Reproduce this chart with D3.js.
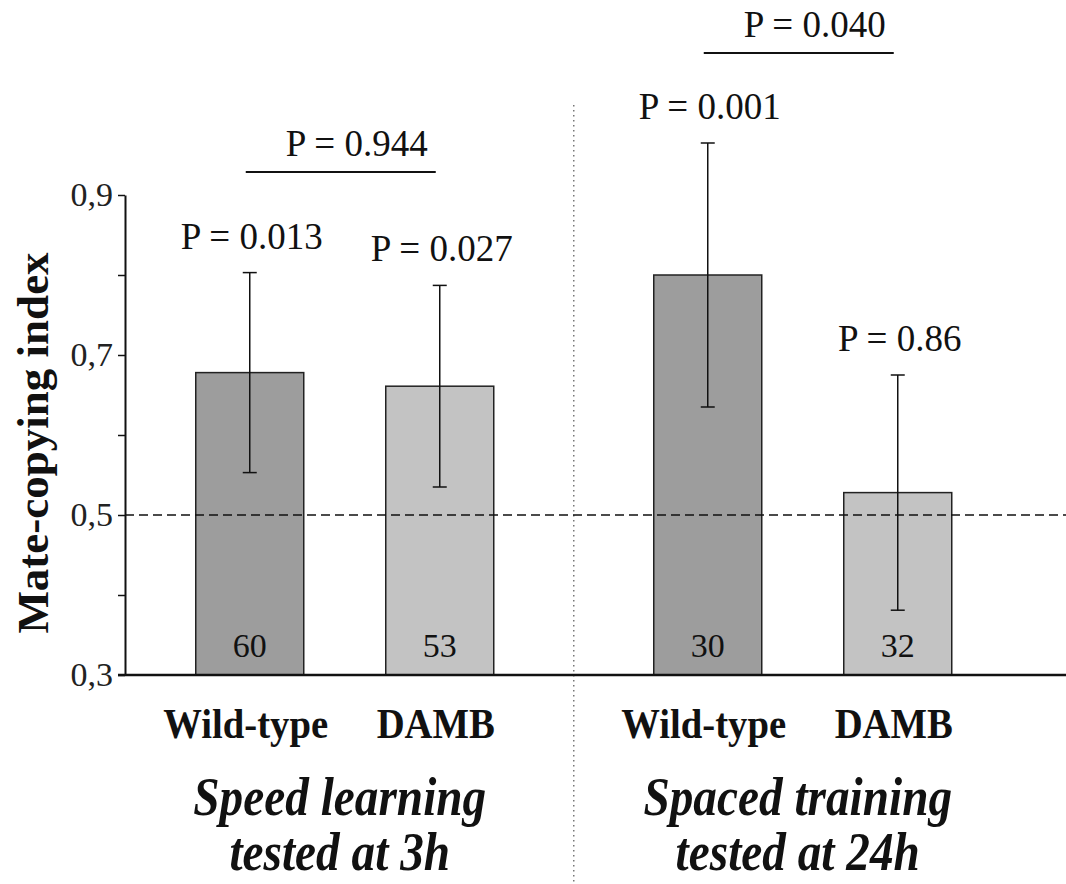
<!DOCTYPE html>
<html>
<head>
<meta charset="utf-8">
<script src="https://cdn.jsdelivr.net/npm/d3@7"></script>
<style>
  html, body { margin: 0; padding: 0; background: #fff; }
  svg { display: block; font-family: "Liberation Serif", "Times New Roman", serif; }
</style>
</head>
<body>
<div id="graph-container"></div>
<script>
// Data
const groups = ["speed", "spaced"];
const groupTitles = [["Speed learning", "tested at 3h"], ["Spaced training", "tested at 24h"]];
const strains = ["Wild-type", "DAMB"];
const means = [0.678, 0.661, 0.800, 0.528];
const errors = [0.125, 0.126, 0.165, 0.147];
const nValues = [60, 53, 30, 32];
const pVsChance = ["P = 0.013", "P = 0.027", "P = 0.001", "P = 0.86"];
const pBetween = ["P = 0.944", "P = 0.040"];
const yTicks = [0.3, 0.4, 0.5, 0.6, 0.7, 0.8, 0.9];
const yTickLabels = ["0,3", "", "0,5", "", "0,7", "", "0,9"];
const chanceLevel = 0.5;

const width = 1066;
const height = 884;

const svg = d3.select("#graph-container")
    .append("svg")
    .attr("width", width)
    .attr("height", height)
    .attr("viewBox", `0 0 ${width} ${height}`);

// flatten into one row per bar
const bars = [];
groups.forEach((g, gi) => {
    strains.forEach((s, si) => {
        const i = gi * strains.length + si;
        bars.push({ group: g, strain: s, mean: means[i], err: errors[i], n: nValues[i], p: pVsChance[i] });
    });
});

// scales
const xGroup = d3.scaleBand()
    .domain(groups)
    .range([115.75, 1031.75]);

const xStrain = d3.scalePoint()
    .domain(strains)
    .range([134, 324]);

const yScale = d3.scaleLinear()
    .domain([0.3, 0.9])
    .range([675, 195]);

const axisX = 125;
const barWidth = 108;
const cx = d => xGroup(d.group) + xStrain(d.strain);
const fills = { "Wild-type": "#9d9d9d", "DAMB": "#c3c3c3" };

// dotted separator between the two experiments
svg.append("line")
    .attr("x1", xGroup("spaced"))
    .attr("x2", xGroup("spaced"))
    .attr("y1", 105)
    .attr("y2", height)
    .attr("stroke", "#777")
    .attr("stroke-width", 1.5)
    .attr("stroke-dasharray", "1.5,3.5");

// bars
svg.selectAll("rect.bar")
    .data(bars)
    .enter()
    .append("rect")
    .attr("class", "bar")
    .attr("x", d => cx(d) - barWidth / 2)
    .attr("y", d => yScale(d.mean))
    .attr("width", barWidth)
    .attr("height", d => yScale(0.3) - yScale(d.mean))
    .attr("fill", d => fills[d.strain])
    .attr("stroke", "#222")
    .attr("stroke-width", 1.5);

// chance level line
svg.append("line")
    .attr("x1", axisX)
    .attr("x2", width)
    .attr("y1", yScale(chanceLevel))
    .attr("y2", yScale(chanceLevel))
    .attr("stroke", "#111")
    .attr("stroke-width", 1.5)
    .attr("stroke-dasharray", "9,5");

// error bars
const eb = svg.selectAll("g.err")
    .data(bars)
    .enter()
    .append("g")
    .attr("class", "err")
    .attr("stroke", "#111")
    .attr("stroke-width", 1.5);

eb.append("line")
    .attr("x1", cx).attr("x2", cx)
    .attr("y1", d => yScale(d.mean + d.err))
    .attr("y2", d => yScale(d.mean - d.err));
eb.append("line")
    .attr("x1", d => cx(d) - 7).attr("x2", d => cx(d) + 7)
    .attr("y1", d => yScale(d.mean + d.err))
    .attr("y2", d => yScale(d.mean + d.err));
eb.append("line")
    .attr("x1", d => cx(d) - 7).attr("x2", d => cx(d) + 7)
    .attr("y1", d => yScale(d.mean - d.err))
    .attr("y2", d => yScale(d.mean - d.err));

// sample sizes inside the bars
svg.selectAll(".n-label")
    .data(bars)
    .enter()
    .append("text")
    .attr("class", "n-label")
    .attr("x", cx)
    .attr("y", 657)
    .style("text-anchor", "middle")
    .style("font-size", "34px")
    .style("fill", "#111")
    .text(d => d.n);

// P values against chance
svg.selectAll(".p-label")
    .data(bars)
    .enter()
    .append("text")
    .attr("class", "p-label")
    .attr("x", d => cx(d) + 2)
    .attr("y", d => yScale(d.mean + d.err) - 24)
    .style("text-anchor", "middle")
    .style("font-size", "37px")
    .style("fill", "#111")
    .text(d => d.p);

// P values between strains, with a line
const bracketY = [172, 53];
groups.forEach((g, gi) => {
    const x1 = xGroup(g) + xStrain(strains[0]);
    const x2 = xGroup(g) + xStrain(strains[1]);
    svg.append("line")
        .attr("x1", x1 - 4).attr("x2", x2 - 4)
        .attr("y1", bracketY[gi]).attr("y2", bracketY[gi])
        .attr("stroke", "#111")
        .attr("stroke-width", 2);
    svg.append("text")
        .attr("x", (x1 + x2) / 2 + 12)
        .attr("y", bracketY[gi] - 16)
        .style("text-anchor", "middle")
        .style("font-size", "37px")
        .style("fill", "#111")
        .text(pBetween[gi]);
});

// y axis
const yAxis = svg.append("g")
    .attr("transform", `translate(${axisX},0)`)
    .call(d3.axisLeft(yScale)
        .tickValues(yTicks)
        .tickFormat((d, i) => yTickLabels[i])
        .tickSize(7)
        .tickSizeOuter(0)
        .tickPadding(5));
yAxis.select(".domain").attr("stroke", "#111").attr("stroke-width", 2);
yAxis.selectAll(".tick line").attr("stroke", "#111").attr("stroke-width", 1.5);
yAxis.selectAll(".tick text")
    .style("font-family", "Liberation Serif, serif")
    .style("font-size", "34px")
    .style("fill", "#222");

// x baseline
svg.append("line")
    .attr("x1", axisX - 7)
    .attr("x2", width)
    .attr("y1", yScale(0.3))
    .attr("y2", yScale(0.3))
    .attr("stroke", "#111")
    .attr("stroke-width", 2.5);

// strain labels (slightly condensed, like the original)
svg.selectAll(".strain-name")
    .data(bars)
    .enter()
    .append("g")
    .attr("class", "strain-name")
    .attr("transform", d => `translate(${cx(d) - 4},738) scale(0.9,1)`)
    .append("text")
    .style("text-anchor", "middle")
    .style("font-size", "43px")
    .style("font-weight", "bold")
    .style("fill", "#111")
    .text(d => d.strain);

// experiment titles
groups.forEach((g, gi) => {
    const t = svg.append("g")
        .attr("transform", `translate(${xGroup(g) + xGroup.bandwidth() / 2 - 5},815) scale(0.86,1)`)
        .append("text")
        .style("text-anchor", "middle")
        .style("font-size", "55px")
        .style("font-weight", "bold")
        .style("font-style", "italic")
        .style("fill", "#111");
    groupTitles[gi].forEach((line, li) => {
        t.append("tspan")
            .attr("x", 0)
            .attr("dy", li === 0 ? 0 : 55)
            .text(line);
    });
});

// y axis label
svg.append("text")
    .attr("transform", "rotate(-90)")
    .attr("x", -443)
    .attr("y", 48)
    .style("text-anchor", "middle")
    .style("font-size", "45px")
    .style("font-weight", "bold")
    .style("fill", "#111")
    .text("Mate-copying index");
</script>
</body>
</html>
